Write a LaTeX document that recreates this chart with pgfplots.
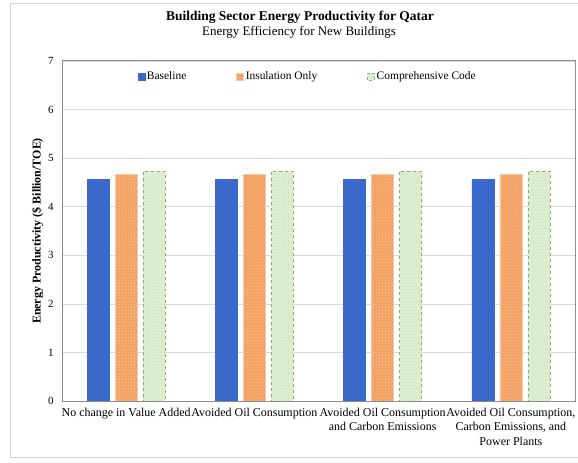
\documentclass[border=0pt]{standalone}
\usepackage{pgfplots}
\pgfplotsset{compat=1.18}
\usepackage{fontspec}
\setmainfont{Liberation Serif}
\usetikzlibrary{patterns}

\definecolor{baseblue}{HTML}{3A69C9}
\definecolor{insorange}{HTML}{F4A366}
\definecolor{insdots}{HTML}{F9C9A2}
\definecolor{codegreen}{HTML}{E0F0D6}
\definecolor{codeedge}{HTML}{7CB862}
\definecolor{codechk}{HTML}{B9DCA6}
\definecolor{gridgray}{HTML}{D9D9D9}
\definecolor{framegray}{HTML}{8C8C8C}

\begin{document}
\begin{tikzpicture}[font=\fontsize{11}{13}\selectfont]
\useasboundingbox (0bp,0bp) rectangle (578bp,463bp);
\clip (0bp,0bp) rectangle (578bp,463bp);
% outer chart frame
\draw[gray!35, line width=0.8bp] (10bp,6bp) rectangle (590bp,460bp);

\node[font=\fontsize{13.5}{15}\selectfont\bfseries] at (300bp,445.5bp) {Building Sector Energy Productivity for Qatar};
\node[font=\fontsize{13}{15}\selectfont] at (299bp,431bp) {Energy Efficiency for New Buildings};

\begin{axis}[
  at={(62bp,62bp)}, anchor=south west,
  scale only axis, width=513bp, height=340bp,
  xmin=-0.5, xmax=3.5, ymin=0, ymax=7,
  ybar=6bp, bar width=22bp,
  xtick={0,1,2,3},
  xticklabels={No change in Value Added,
    Avoided Oil Consumption,
    {Avoided Oil Consumption\\and Carbon Emissions},
    {Avoided Oil Consumption,\\Carbon Emissions, and\\Power Plants}},
  xticklabel style={align=center, font=\fontsize{12}{14.5}\selectfont, yshift=-3.5bp},
  ytick={0,1,...,7},
  /pgf/number format/assume math mode=true,
  yticklabel style={font=\fontsize{11}{12}\selectfont, xshift=-5bp},
  major tick length=0pt,
  ymajorgrids, grid style={gridgray, line width=0.6bp},
  axis line style={framegray, line width=1bp},
  ylabel={\bfseries Energy Productivity (\$ Billion/TOE)},
  ylabel style={font=\fontsize{12}{13}\selectfont, at={(ticklabel cs:0.5)}, yshift=-2bp},
  legend style={draw=none, fill=none, at={(0.141,0.955)}, anchor=west,
    legend columns=-1, font=\fontsize{11.5}{13}\selectfont,
    /tikz/every even column/.append style={column sep=48bp}},
  legend image code/.code={\draw[#1] (0bp,-3.5bp) rectangle (7bp,3.5bp);},
]
\addplot[fill=baseblue, draw=baseblue]
  coordinates {(0,4.57) (1,4.57) (2,4.57) (3,4.57)};
\addplot[fill=insorange, draw=insdots,
  postaction={pattern=dots, pattern color=insdots}]
  coordinates {(0,4.66) (1,4.66) (2,4.66) (3,4.66)};
\addplot[fill=codegreen, draw=codeedge, dashed,
  postaction={pattern=crosshatch dots, pattern color=codechk}]
  coordinates {(0,4.73) (1,4.73) (2,4.73) (3,4.73)};
\legend{Baseline, Insulation Only, Comprehensive Code}
\end{axis}
\end{tikzpicture}
\end{document}
